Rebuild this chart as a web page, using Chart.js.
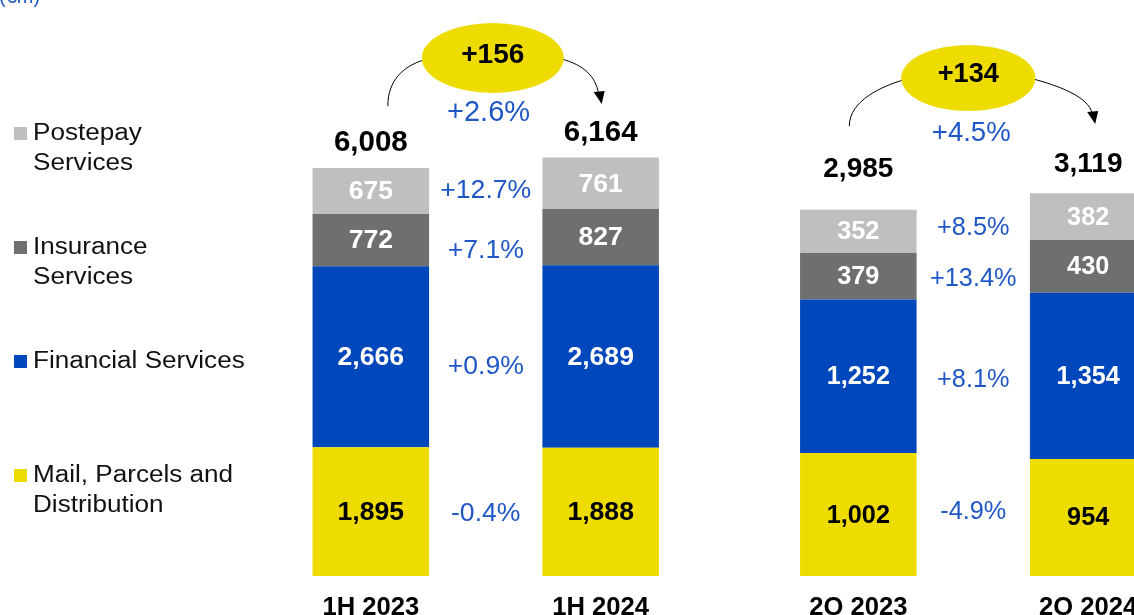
<!DOCTYPE html>
<html>
<head>
<meta charset="utf-8">
<script src="https://cdn.jsdelivr.net/npm/chart.js@4.4.1/dist/chart.umd.min.js"></script>
<style>
  html, body { margin: 0; padding: 0; background: #fff; overflow: hidden; }
  #wrap { position: relative; width: 1230px; height: 615px; }
</style>
</head>
<body>
<div id="wrap"><canvas id="revenue-chart"></canvas></div>
<script>
"use strict";

// data (€m)
const periods = ["1H 2023", "1H 2024", "2Q 2023", "2Q 2024"];
const segmentNames = [
    ["Mail, Parcels and", "Distribution"],
    ["Financial Services"],
    ["Insurance", "Services"],
    ["Postepay", "Services"],
];
const mailValues = [1895, 1888, 1002, 954];
const financialValues = [2666, 2689, 1252, 1354];
const insuranceValues = [772, 827, 379, 430];
const postepayValues = [675, 761, 352, 382];
const totals = [6008, 6164, 2985, 3119];
const totalDeltas = ["+156", "+134"];
const totalChanges = ["+2.6%", "+4.5%"];
const mailChanges = ["-0.4%", "-4.9%"];
const financialChanges = ["+0.9%", "+8.1%"];
const insuranceChanges = ["+7.1%", "+13.4%"];
const postepayChanges = ["+12.7%", "+8.5%"];

const segValues = [mailValues, financialValues, insuranceValues, postepayValues];
const segChanges = [mailChanges, financialChanges, insuranceChanges, postepayChanges];
const segColors = ["#EEDC00", "#0047BB", "#6F6F6F", "#BFBFBF"];
const valueColors = ["#000000", "#FFFFFF", "#FFFFFF", "#FFFFFF"];
const blue = "#1F57C6";
const font = "'Liberation Sans', Arial, sans-serif";

// look of the labels, 1H group vs 2Q group
const fontScale = [1, 0.95];
const headerY = [58, 78];
const headerShift = [7, -5];
const arcStartDx = [17, -9];
const arcTipDx = [1, 7];
const totalLift = [25, 25, 41, 29];
// small vertical nudges of the % labels (mail, financial, insurance, postepay)
const changeNudge = [[1, 9, 10, -1], [-4, 3, 2, -4]];

const fmt = (v) => v.toLocaleString("en-US");

const datasets = [];
segValues.forEach((vals, s) => {
    periods.forEach((p, i) => {
        const g = Math.floor(i / 2);
        const data = [null, null];
        data[g] = vals[i];
        datasets.push({
            label: segmentNames[s].join(" "),
            data: data,
            seg: s,
            period: i,
            yAxisID: g === 0 ? "y" : "y2",
            stack: "year" + (i % 2),
            backgroundColor: segColors[s],
            borderWidth: 0,
            barPercentage: 0.507,
            categoryPercentage: 0.943,
        });
    });
});

function txt(ctx, s, x, y, size, bold, color, align) {
    ctx.font = (bold ? "bold " : "") + size + "px " + font;
    ctx.fillStyle = color;
    ctx.textAlign = align || "center";
    ctx.textBaseline = "middle";
    ctx.fillText(s, x, y);
}

const annotate = {
    id: "annotate",
    afterDatasetsDraw(chart) {
        const ctx = chart.ctx;
        const area = chart.chartArea;
        const bars = periods.map(() => ({ segs: [] }));

        chart.data.datasets.forEach((ds, d) => {
            const g = Math.floor(ds.period / 2);
            const el = chart.getDatasetMeta(d).data[g];
            const b = bars[ds.period];
            b.x = el.x;
            b.segs[ds.seg] = { top: el.y, base: el.base };
        });

        ctx.save();

        // values inside the segments
        bars.forEach((b, i) => {
            const g = Math.floor(i / 2);
            b.segs.forEach((sg, s) => {
                txt(ctx, fmt(segValues[s][i]), b.x, (sg.top + sg.base) / 2 + 1,
                    26.6 * fontScale[g], true, valueColors[s]);
            });
            const top = b.segs[3].top;
            txt(ctx, fmt(totals[i]), b.x, top - totalLift[i], 29.5 * fontScale[g], true, "#000");
            txt(ctx, periods[i], b.x, area.bottom + 32, 25.6, true, "#000");
        });

        // changes between bars + header bubble
        [0, 1].forEach((g) => {
            const a = bars[g * 2], b = bars[g * 2 + 1];
            const mid = (a.x + b.x) / 2;
            const k = fontScale[g];
            segChanges.forEach((ch, s) => {
                const sg = a.segs[s];
                txt(ctx, ch[g], mid, (sg.top + sg.base) / 2 + 1 + changeNudge[g][s],
                    26.6 * k, false, blue);
            });

            const cx = mid + headerShift[g];
            const cy = headerY[g];
            const rx = 71 * (g ? 0.945 : 1), ry = 35 * (g ? 0.945 : 1);

            // arrows
            ctx.strokeStyle = "#000";
            ctx.lineWidth = 1;
            const sx = a.x + arcStartDx[g], sy = cy + 48;
            const ex = cx - rx * 0.97, ey = cy + 2;
            ctx.beginPath();
            ctx.moveTo(sx, sy);
            ctx.bezierCurveTo(sx, sy - 26, ex - 20, ey + 6, ex, ey);
            ctx.stroke();

            const rsx = cx + rx * 0.97, rsy = cy + 1;
            const tx = b.x + arcTipDx[g], ty = cy + 46;
            ctx.beginPath();
            ctx.moveTo(rsx, rsy);
            ctx.bezierCurveTo(rsx + 22, rsy + 6, tx - 6, ty - 28, tx - 3, ty - 10);
            ctx.stroke();
            ctx.fillStyle = "#000";
            ctx.beginPath();
            ctx.moveTo(tx, ty);
            ctx.lineTo(tx - 8, ty - 12);
            ctx.lineTo(tx + 3, ty - 13);
            ctx.closePath();
            ctx.fill();

            ctx.fillStyle = "#EEDC00";
            ctx.beginPath();
            ctx.ellipse(cx, cy, rx, ry, 0, 0, Math.PI * 2);
            ctx.fill();

            txt(ctx, totalDeltas[g], cx, cy - 3, 28 * (g ? 0.97 : 1), true, "#000");
            txt(ctx, totalChanges[g], mid + headerShift[g] * 0.4, cy + 55, 29 * k, false, blue);
        });

        // legend on the left (text a bit wider than plain Arial)
        segmentNames.forEach((lines, s) => {
            const rowY = 134 + (3 - s) * 114;
            ctx.fillStyle = segColors[s];
            ctx.fillRect(14, rowY - 7, 13, 13);
            lines.forEach((ln, j) => {
                ctx.save();
                ctx.translate(33, rowY + j * 30);
                ctx.scale(1.12, 1);
                txt(ctx, ln, 0, 0, 23.3, false, "#111", "left");
                ctx.restore();
            });
        });

        // unit, mostly cut by the top edge
        ctx.font = "20px " + font;
        ctx.fillStyle = blue;
        ctx.textAlign = "left";
        ctx.textBaseline = "alphabetic";
        ctx.fillText("(€m)", -1, 3);

        ctx.restore();
    },
};

const canvas_place = document.getElementById("revenue-chart");

const revenueChart = new Chart(canvas_place, {
    type: "bar",
    data: {
        labels: ["1H", "2Q"],
        datasets: datasets,
    },
    options: {
        responsive: true,
        maintainAspectRatio: false,
        animation: false,
        layout: {
            padding: { left: 242, right: 13, top: 0, bottom: 39 },
        },
        scales: {
            x: { stacked: true, display: false },
            y: { stacked: true, display: false, min: 0, max: 8483 },
            y2: { stacked: true, display: false, min: 0, max: 4695 },
        },
        plugins: {
            legend: { display: false },
            tooltip: { enabled: false },
        },
    },
    plugins: [annotate],
});
</script>
</body>
</html>
